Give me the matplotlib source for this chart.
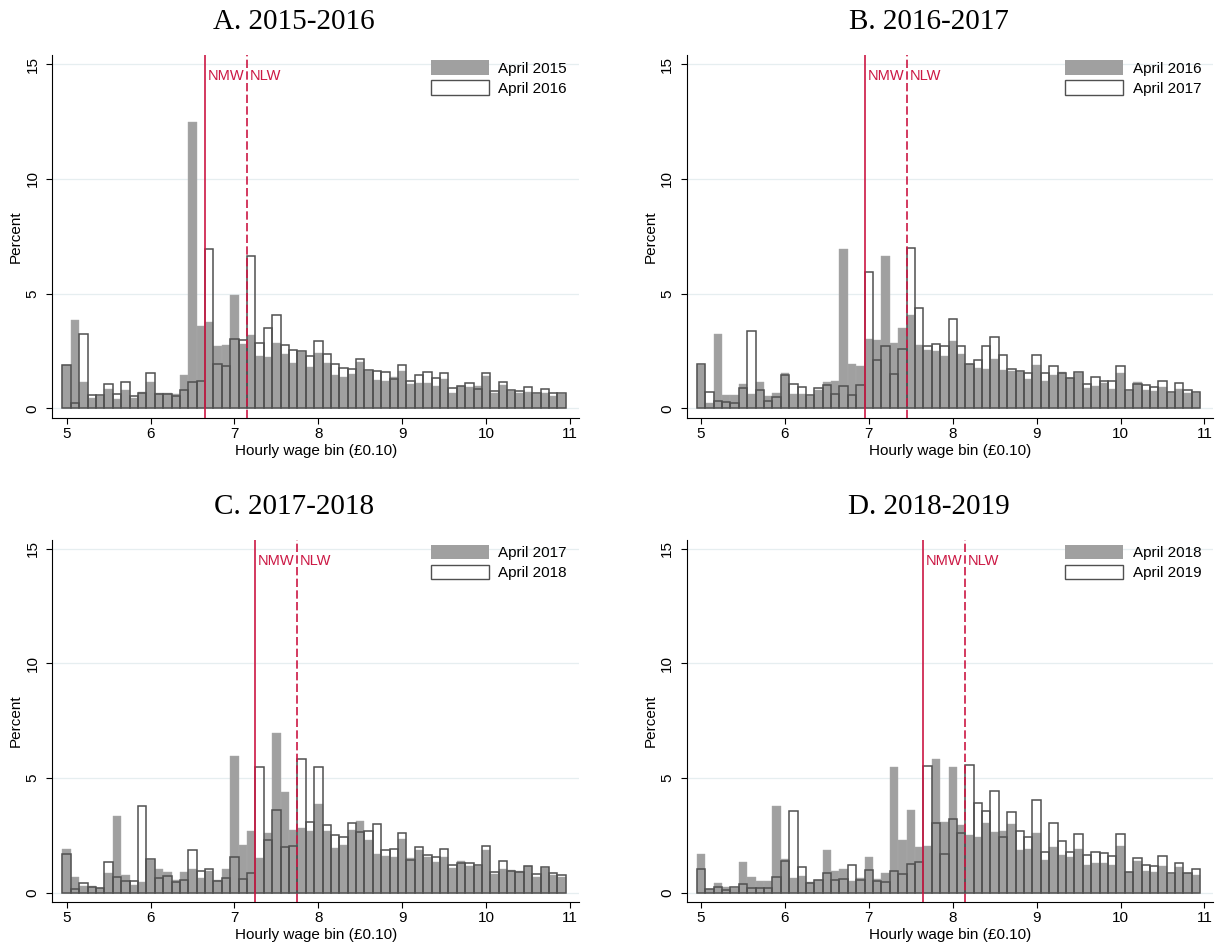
import matplotlib
matplotlib.use('Agg')
import matplotlib.pyplot as plt
from matplotlib.patches import Patch
import numpy as np

plt.rcParams['font.family'] = ['Liberation Sans', 'DejaVu Sans']

# hourly wage bins (centre of each 10p bin), 5.0 .. 10.9
bins = np.round(np.arange(50, 110) / 10.0, 1)

# percent of jobs in each bin, one list per April survey
apr2015 = [1.90, 3.85, 1.15, 0.47, 0.55, 0.83, 0.41, 0.78, 0.44, 0.70,
           1.15, 0.65, 0.68, 0.61, 1.45, 12.47, 3.58, 3.78, 2.72, 2.76,
           4.96, 2.80, 3.18, 2.30, 2.25, 2.85, 2.37, 1.96, 2.46, 1.82,
           2.41, 1.99, 1.47, 1.37, 1.48, 2.03, 1.63, 1.24, 1.19, 1.38,
           1.61, 1.05, 1.12, 1.10, 0.96, 1.29, 0.67, 0.97, 0.94, 0.97,
           1.42, 0.65, 1.02, 0.76, 0.65, 0.71, 0.61, 0.68, 0.52, 0.64]
apr2016 = [1.87, 0.25, 3.25, 0.56, 0.57, 1.05, 0.62, 1.15, 0.53, 0.68,
           1.55, 0.62, 0.61, 0.53, 0.80, 1.15, 1.18, 6.95, 1.91, 1.85,
           3.03, 2.97, 6.65, 2.83, 3.52, 4.05, 2.74, 2.54, 2.51, 2.29,
           2.92, 2.35, 1.94, 1.75, 1.70, 2.13, 1.66, 1.61, 1.60, 1.28,
           1.90, 1.17, 1.46, 1.60, 1.34, 1.56, 0.90, 0.96, 1.10, 0.83,
           1.55, 0.74, 1.15, 0.80, 0.75, 0.93, 0.65, 0.85, 0.67, 0.65]
apr2017 = [1.91, 0.69, 0.32, 0.28, 0.21, 0.88, 3.36, 0.80, 0.33, 0.48,
           1.45, 1.06, 0.91, 0.58, 0.89, 1.02, 0.63, 0.97, 0.57, 1.02,
           5.95, 2.09, 2.70, 1.50, 2.60, 6.98, 4.38, 2.72, 2.82, 2.70,
           3.88, 2.71, 1.95, 2.10, 2.73, 3.12, 2.31, 1.71, 1.62, 1.56,
           2.33, 1.54, 1.85, 1.55, 1.33, 1.57, 1.07, 1.38, 1.18, 1.18,
           1.86, 0.81, 1.05, 1.00, 0.95, 1.17, 0.70, 1.10, 0.78, 0.69]
apr2018 = [1.68, 0.15, 0.44, 0.25, 0.23, 1.35, 0.68, 0.51, 0.53, 3.79,
           1.47, 0.65, 0.73, 0.49, 0.55, 1.89, 0.96, 1.03, 0.50, 0.66,
           1.57, 0.60, 0.87, 5.50, 2.29, 3.60, 2.01, 2.05, 5.83, 3.08,
           5.47, 2.95, 2.52, 2.42, 3.05, 2.67, 2.71, 2.99, 1.86, 1.90,
           2.60, 1.44, 1.99, 1.64, 1.57, 1.91, 1.22, 1.31, 1.31, 1.23,
           2.05, 0.91, 1.41, 0.94, 0.93, 1.19, 0.84, 1.14, 0.85, 0.77]
apr2019 = [1.04, 0.17, 0.26, 0.13, 0.25, 0.38, 0.22, 0.22, 0.22, 0.68,
           1.38, 3.59, 1.12, 0.43, 0.58, 0.87, 0.58, 0.61, 1.22, 0.55,
           1.00, 0.52, 0.48, 0.96, 0.81, 1.25, 1.36, 5.51, 3.03, 1.71,
           3.22, 2.62, 5.58, 3.90, 3.55, 4.43, 2.42, 3.51, 2.71, 2.43,
           4.04, 1.77, 3.03, 2.26, 1.78, 2.55, 1.67, 1.78, 1.72, 1.61,
           2.55, 0.91, 1.51, 1.22, 1.17, 1.61, 0.86, 1.29, 0.87, 1.04]

titles = ['A. 2015-2016', 'B. 2016-2017', 'C. 2017-2018', 'D. 2018-2019']
years = [('April 2015', apr2015), ('April 2016', apr2016),
         ('April 2017', apr2017), ('April 2018', apr2018),
         ('April 2019', apr2019)]
nmw = [6.65, 6.95, 7.25, 7.65]    # NMW line (bin edge)
nlw = [7.15, 7.45, 7.75, 8.15]    # NLW line (bin edge)

gray = '#a0a0a0'
outline = '#505050'
red = '#cc1844'
gridcol = '#e6eef0'

W, H = 1219, 944
fig = plt.figure(figsize=(W / 100, H / 100), dpi=100)

# axes boxes in pixels: left, top, right, bottom
boxes = [(52.3, 55, 579, 417.7), (686.7, 55, 1213.4, 417.7),
         (52.3, 539.5, 579, 902.3), (686.7, 539.5, 1213.4, 902.3)]


def panel(k):
	l, t, r, b = boxes[k]
	ax = fig.add_axes([l / W, 1 - b / H, (r - l) / W, (b - t) / H])
	prev_lab, prev = years[k]
	curr_lab, curr = years[k + 1]

	for y in [0, 5, 10, 15]:
		ax.axhline(y, color=gridcol, lw=0.9, zorder=1)

	ax.bar(bins, prev, width=0.1, color=gray, edgecolor='#aaaaaa', linewidth=0.3, zorder=2)
	ax.bar(bins, curr, width=0.1, facecolor='none', edgecolor=outline, linewidth=1.1, zorder=3)

	ax.axvline(nmw[k], color=red, lw=1.2, zorder=4)
	ax.axvline(nlw[k], color=red, lw=1.2, ls=(0, (5, 2)), zorder=4)
	for xv, txt in [(nmw[k], 'NMW'), (nlw[k], 'NLW')]:
		ax.annotate(txt, xy=(xv, 0.942), xycoords=('data', 'axes fraction'),
		            xytext=(2, 0), textcoords='offset points', color=red,
		            fontsize=10.5, ha='left', va='center')

	ax.set_xlim(4.829, 11.107)
	ax.set_ylim(-0.41, 15.4)
	ax.set_xticks([5, 6, 7, 8, 9, 10, 11])
	ax.set_yticks([0, 5, 10, 15])
	ax.spines['top'].set_visible(False)
	ax.spines['right'].set_visible(False)
	ax.tick_params(axis='both', labelsize=11, length=4, width=0.8)
	ax.tick_params(axis='x', pad=2.5)
	ax.tick_params(axis='y', pad=5)
	for lab in ax.get_yticklabels():
		lab.set_rotation(90)
		lab.set_va('center')

	ax.set_xlabel('Hourly wage bin (£0.10)', fontsize=11, labelpad=2)
	ax.set_ylabel('Percent', fontsize=11, labelpad=2)

	handles = [Patch(facecolor=gray, edgecolor='none', label=prev_lab),
	           Patch(facecolor='white', edgecolor=outline, linewidth=1.0, label=curr_lab)]
	ax.legend(handles=handles, loc='upper right', bbox_to_anchor=(0.977, 0.985),
	          frameon=False, fontsize=11, handlelength=3.8, handleheight=1.08,
	          handletextpad=0.6, labelspacing=0.3, borderpad=0, borderaxespad=0)

	ax.text(0.459, 1 + 26 / (b - t), titles[k], transform=ax.transAxes,
	        ha='center', va='baseline', fontsize=21, family='Liberation Serif')


for k in range(4):
	panel(k)

fig.savefig('out.png', dpi=100)
